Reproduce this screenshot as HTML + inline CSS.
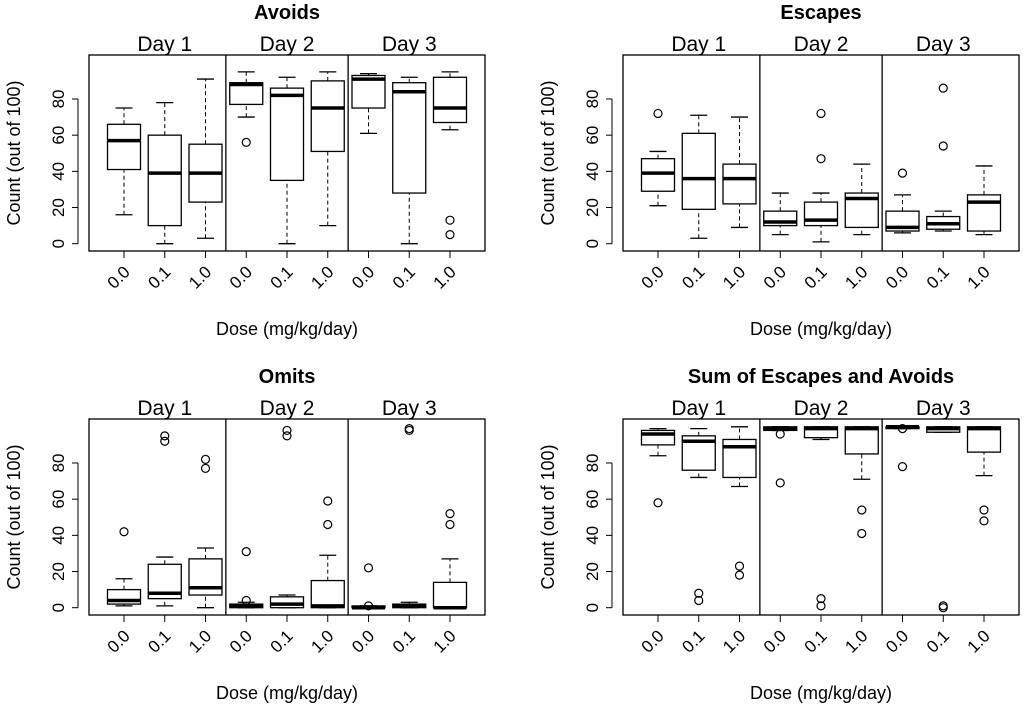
<!DOCTYPE html>
<html><head><meta charset="utf-8"><style>
html,body{margin:0;padding:0;background:#fff}
svg{display:block;font-family:"Liberation Sans",Arial,sans-serif}
</style></head><body>
<svg id="chart" width="1024" height="709" viewBox="0 0 1024 709"></svg>
<script>
// Data: [lowWhisker, q1, median, q3, highWhisker, [outliers]] per day×dose group
const panelTitles = ["Avoids","Escapes","Omits","Sum of Escapes and Avoids"];
const dayLabels = ["Day 1","Day 2","Day 3"];
const doseLabels = ["0.0","0.1","1.0"];
const yTicks = [0,20,40,60,80];
const avoids = [
 [16,41,57,66,75,[]],[0,10,39,60,78,[]],[3,23,39,55,91,[]],
 [70,77,88,89,95,[56]],[0,35,82,86,92,[]],[10,51,75,90,95,[]],
 [61,75,91,93,94,[]],[0,28,84,89,92,[]],[63,67,75,92,95,[5,13]]];
const escapes = [
 [21,29,39,47,51,[72]],[3,19,36,61,71,[]],[9,22,36,44,70,[]],
 [5,10,12,18,28,[]],[1,10,13,23,28,[47,72]],[5,9,25,28,44,[]],
 [6,7,9,18,27,[39]],[7,8,11,15,18,[54,86]],[5,7,23,27,43,[]]];
const omits = [
 [1,2,4,10,16,[42]],[1,5,8,24,28,[92,95]],[0,7,11,27,33,[77,82]],
 [0,0,1,2,3,[4,31]],[0,0,2,6,7,[95,98]],[0,0,1,15,29,[46,59]],
 [0,0,0,1,1,[1,22]],[0,0,1,2,3,[98,99]],[0,0,0,14,27,[46,52]]];
const sums = [
 [84,90,96,98,99,[58]],[72,76,92,95,99,[4,8]],[67,72,89,93,100,[18,23]],
 [98,98,99,100,100,[69,96]],[93,94,99,100,100,[1,5]],[71,85,99,100,100,[41,54]],
 [99,99,100,100,100,[78,99]],[97,97,99,100,100,[0,1]],[73,86,99,100,100,[48,54]]];
const panelData = [avoids, escapes, omits, sums];

const svg = document.getElementById('chart');
const NS = 'http://www.w3.org/2000/svg';
function mk(tag, attrs, parent){const e=document.createElementNS(NS,tag);for(const k in attrs)e.setAttribute(k,attrs[k]);(parent||svg).appendChild(e);return e;}

const origins = [[0,0],[534,0],[0,364],[534,364]];
panelData.forEach((data, p) => {
  const ox = origins[p][0], oy = origins[p][1];
  const L = 89+ox, R = 485+ox, T = 55+oy, B = 251+oy;
  const y = v => 243.7+oy - v*1.809;
  const x = i => 124+ox + i*40.75;
  const g = mk('g', {});
  
  
  const t = mk('text', {x:(L+R)/2, y:19+oy, 'text-anchor':'middle', 'font-size':20, 'font-weight':'bold'}, g);
  t.textContent = panelTitles[p];
  
  
  dayLabels.forEach((d, k) => {
    const dt = mk('text', {x:x(k*3+1), y:51+oy, 'text-anchor':'middle', 'font-size':21}, g);
    dt.textContent = d;
    
    
  });
  const fr = mk('rect', {x:L, y:T, width:R-L, height:B-T, fill:'none', stroke:'#000', 'stroke-width':1.3}, g);
  
  
  [1,2].forEach(k => {
    const xd = (x(k*3-1)+x(k*3))/2;
    const dl = mk('line', {x1:xd, x2:xd, y1:T, y2:B, stroke:'#000', 'stroke-width':1.3}, g);
    
    
  });
  mk('line', {x1:78+ox, x2:78+ox, y1:y(0), y2:y(80), stroke:'#000'}, g);
  yTicks.forEach(v => {
    mk('line', {x1:72+ox, x2:78+ox, y1:y(v), y2:y(v), stroke:'#000'}, g);
    const tl = mk('text', {x:0, y:0, 'text-anchor':'middle', 'font-size':17, transform:`translate(${64+ox},${y(v)}) rotate(-90)`}, g);
    tl.textContent = v;
    
    
  });
  const yt = mk('text', {x:0, y:0, 'text-anchor':'middle', 'font-size':18, transform:`translate(${20+ox},${(T+B)/2}) rotate(-90)`}, g);
  yt.textContent = 'Count (out of 100)';
  
  
  const xt = mk('text', {x:(L+R)/2, y:335+oy, 'text-anchor':'middle', 'font-size':18}, g);
  xt.textContent = 'Dose (mg/kg/day)';
  
  
  data.forEach((b, i) => {
    const cx = x(i), hw = 16.5, cw = 8.5;
    mk('line', {x1:cx, x2:cx, y1:B, y2:B+7, stroke:'#000'}, g);
    const xl = mk('text', {x:0, y:0, 'text-anchor':'end', 'font-size':17, transform:`translate(${cx+7},${B+22}) rotate(-45)`}, g);
    xl.textContent = doseLabels[i%3];
    
    
    const bg = mk('g', {}, g);
    
    
    mk('line', {x1:cx, x2:cx, y1:y(b[0]), y2:y(b[1]), stroke:'#000', 'stroke-dasharray':'4,3'}, bg);
    mk('line', {x1:cx, x2:cx, y1:y(b[3]), y2:y(b[4]), stroke:'#000', 'stroke-dasharray':'4,3'}, bg);
    mk('line', {x1:cx-cw, x2:cx+cw, y1:y(b[0]), y2:y(b[0]), stroke:'#000', 'stroke-width':1.3}, bg);
    mk('line', {x1:cx-cw, x2:cx+cw, y1:y(b[4]), y2:y(b[4]), stroke:'#000', 'stroke-width':1.3}, bg);
    mk('rect', {x:cx-hw, y:y(b[3]), width:2*hw, height:Math.max(0.5,y(b[1])-y(b[3])), fill:'#fff', stroke:'#000', 'stroke-width':1.3}, bg);
    mk('line', {x1:cx-hw, x2:cx+hw, y1:y(b[2]), y2:y(b[2]), stroke:'#000', 'stroke-width':3.5}, bg);
    b[5].forEach(o => {
      const c = mk('circle', {cx:cx, cy:y(o), r:4, fill:'none', stroke:'#000', 'stroke-width':1.2}, bg);
      
      
    });
  });
});
</script>
</body></html>
